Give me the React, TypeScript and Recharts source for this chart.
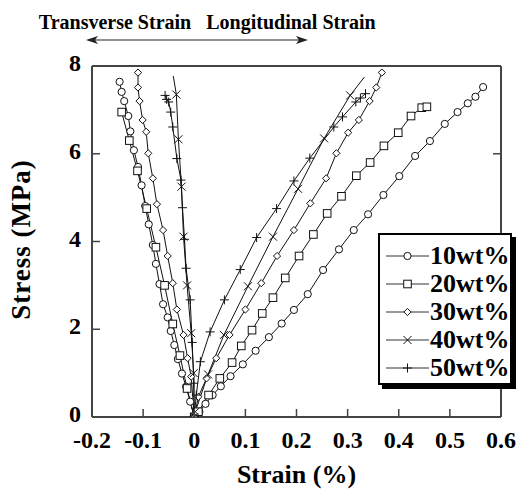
import React from 'react'
import { ComposedChart, Line, XAxis, YAxis, Legend } from 'recharts'

type Pt = { x: number; y: number }

const strainTicks = [-0.2, -0.1, 0, 0.1, 0.2, 0.3, 0.4, 0.5, 0.6]
const stressTicks = [0, 2, 4, 6, 8]
const seriesNames = ['10wt%', '20wt%', '30wt%', '40wt%', '50wt%']
const markerKinds = ['circle', 'square', 'diamond', 'cross', 'plus']

// longitudinal (positive strain) and transverse (negative strain) branches
const long10: Pt[] = [
  { x: 0, y: 0 }, { x: 0.01, y: 0.12 }, { x: 0.022, y: 0.3 }, { x: 0.036, y: 0.5 }, { x: 0.052, y: 0.7 },
  { x: 0.071, y: 0.93 }, { x: 0.095, y: 1.2 }, { x: 0.12, y: 1.51 }, { x: 0.146, y: 1.82 }, { x: 0.171, y: 2.13 },
  { x: 0.195, y: 2.44 }, { x: 0.222, y: 2.8 }, { x: 0.252, y: 3.35 }, { x: 0.283, y: 3.82 }, { x: 0.312, y: 4.26 },
  { x: 0.34, y: 4.62 }, { x: 0.37, y: 5.06 }, { x: 0.401, y: 5.49 }, { x: 0.432, y: 5.95 }, { x: 0.461, y: 6.29 },
  { x: 0.49, y: 6.68 }, { x: 0.515, y: 6.95 }, { x: 0.535, y: 7.15 }, { x: 0.55, y: 7.3 }, { x: 0.565, y: 7.52 },
]
const trans10: Pt[] = [
  { x: 0, y: 0 }, { x: -0.008, y: 0.35 }, { x: -0.016, y: 0.69 }, { x: -0.024, y: 0.99 }, { x: -0.032, y: 1.32 },
  { x: -0.039, y: 1.64 }, { x: -0.046, y: 1.96 }, { x: -0.052, y: 2.27 }, { x: -0.061, y: 2.57 }, { x: -0.068, y: 3.03 },
  { x: -0.075, y: 3.49 }, { x: -0.081, y: 3.92 }, { x: -0.089, y: 4.39 }, { x: -0.096, y: 4.81 }, { x: -0.103, y: 5.28 },
  { x: -0.11, y: 5.7 }, { x: -0.118, y: 6.08 }, { x: -0.125, y: 6.51 }, { x: -0.129, y: 6.86 }, { x: -0.137, y: 7.2 },
  { x: -0.142, y: 7.41 }, { x: -0.146, y: 7.64 },
]
const long20: Pt[] = [
  { x: 0, y: 0 }, { x: 0.008, y: 0.12 }, { x: 0.028, y: 0.5 }, { x: 0.05, y: 0.88 }, { x: 0.074, y: 1.24 },
  { x: 0.092, y: 1.62 }, { x: 0.113, y: 1.98 }, { x: 0.133, y: 2.36 }, { x: 0.154, y: 2.72 }, { x: 0.178, y: 3.17 },
  { x: 0.205, y: 3.67 }, { x: 0.233, y: 4.16 }, { x: 0.26, y: 4.64 }, { x: 0.288, y: 5.03 }, { x: 0.317, y: 5.5 },
  { x: 0.344, y: 5.8 }, { x: 0.371, y: 6.18 }, { x: 0.399, y: 6.48 }, { x: 0.424, y: 6.86 }, { x: 0.445, y: 7.05 },
  { x: 0.455, y: 7.07 },
]
const trans20: Pt[] = [
  { x: 0, y: 0 }, { x: -0.014, y: 0.65 }, { x: -0.028, y: 1.4 }, { x: -0.042, y: 2.12 }, { x: -0.058, y: 3.0 },
  { x: -0.075, y: 3.87 }, { x: -0.093, y: 4.75 }, { x: -0.111, y: 5.61 }, { x: -0.127, y: 6.3 }, { x: -0.142, y: 6.95 },
]
const long30: Pt[] = [
  { x: 0, y: 0 }, { x: 0.008, y: 0.46 }, { x: 0.024, y: 0.88 }, { x: 0.043, y: 1.34 }, { x: 0.069, y: 1.87 },
  { x: 0.1, y: 2.45 }, { x: 0.131, y: 3.05 }, { x: 0.162, y: 3.67 }, { x: 0.195, y: 4.26 }, { x: 0.227, y: 4.87 },
  { x: 0.258, y: 5.44 }, { x: 0.278, y: 6.01 }, { x: 0.301, y: 6.48 }, { x: 0.322, y: 6.77 }, { x: 0.343, y: 7.2 },
  { x: 0.356, y: 7.51 }, { x: 0.367, y: 7.85 },
]
const trans30: Pt[] = [
  { x: 0, y: 0 }, { x: -0.006, y: 0.92 }, { x: -0.013, y: 1.34 }, { x: -0.021, y: 1.87 }, { x: -0.034, y: 2.45 },
  { x: -0.042, y: 3.05 }, { x: -0.052, y: 3.67 }, { x: -0.061, y: 4.26 }, { x: -0.073, y: 4.85 }, { x: -0.081, y: 5.44 },
  { x: -0.09, y: 6.01 }, { x: -0.094, y: 6.5 }, { x: -0.101, y: 6.77 }, { x: -0.107, y: 7.2 }, { x: -0.11, y: 7.51 },
  { x: -0.11, y: 7.85 },
]
const long40: Pt[] = [
  { x: 0, y: 0 }, { x: 0.002, y: 0.12 }, { x: 0.027, y: 0.97 }, { x: 0.058, y: 1.87 }, { x: 0.105, y: 2.98 },
  { x: 0.154, y: 4.11 }, { x: 0.203, y: 5.2 }, { x: 0.254, y: 6.35 }, { x: 0.305, y: 7.33 }, { x: 0.333, y: 7.75 },
]
const trans40: Pt[] = [
  { x: 0, y: 0 }, { x: -0.001, y: 1.0 }, { x: -0.006, y: 1.91 }, { x: -0.014, y: 3.0 }, { x: -0.021, y: 4.11 },
  { x: -0.025, y: 5.25 }, { x: -0.031, y: 6.33 }, { x: -0.035, y: 7.35 }, { x: -0.041, y: 7.77 },
]
const long50: Pt[] = [
  { x: 0, y: 0 }, { x: 0.004, y: 0.5 }, { x: 0.012, y: 1.26 }, { x: 0.031, y: 1.94 }, { x: 0.059, y: 2.67 },
  { x: 0.09, y: 3.36 }, { x: 0.122, y: 4.09 }, { x: 0.161, y: 4.75 }, { x: 0.195, y: 5.38 }, { x: 0.226, y: 5.9 },
  { x: 0.273, y: 6.61 }, { x: 0.29, y: 6.84 }, { x: 0.316, y: 7.18 }, { x: 0.325, y: 7.27 }, { x: 0.335, y: 7.37 },
]
const trans50: Pt[] = [
  { x: 0, y: 0 }, { x: -0.001, y: 0.77 }, { x: -0.004, y: 1.7 }, { x: -0.008, y: 2.67 }, { x: -0.016, y: 3.39 },
  { x: -0.019, y: 4.05 }, { x: -0.023, y: 4.77 }, { x: -0.026, y: 5.4 }, { x: -0.034, y: 5.89 }, { x: -0.042, y: 6.61 },
  { x: -0.046, y: 6.95 }, { x: -0.05, y: 7.18 }, { x: -0.054, y: 7.24 }, { x: -0.057, y: 7.33 },
]

const longBranches = [long10, long20, long30, long40, long50]
const transBranches = [trans10, trans20, trans30, trans40, trans50]
// 40wt% curves run past their last marker to the top without symbols
const unmarkedTail = [0, 0, 0, 1, 0]

const FONT = "'Liberation Serif', 'DejaVu Serif', serif"
const AXIS = '#444'

const Marker = ({ cx, cy, kind }: { cx: number; cy: number; kind: string }) => {
  if (cx == null || cy == null) return null
  const s = { stroke: '#111', strokeWidth: 1, fill: '#fff' }
  if (kind === 'circle') return <circle cx={cx} cy={cy} r={3.6} {...s} />
  if (kind === 'square') return <rect x={cx - 3.8} y={cy - 3.8} width={7.6} height={7.6} {...s} />
  if (kind === 'diamond')
    return <polygon points={`${cx},${cy - 3.6} ${cx + 3.6},${cy} ${cx},${cy + 3.6} ${cx - 3.6},${cy}`} {...s} />
  if (kind === 'cross')
    return (
      <path d={`M${cx - 4},${cy - 4}L${cx + 4},${cy + 4}M${cx - 4},${cy + 4}L${cx + 4},${cy - 4}`} stroke="#111" strokeWidth={1} />
    )
  return <path d={`M${cx - 4.5},${cy}L${cx + 4.5},${cy}M${cx},${cy - 4.5}L${cx},${cy + 4.5}`} stroke="#111" strokeWidth={1} />
}

const fmt = (v: number) => String(v)

const BottomTick = (props: any) => {
  const { x, y, payload } = props
  return (
    <g>
      <line x1={x} y1={y} x2={x} y2={y - 8} stroke={AXIS} strokeWidth={1.5} />
      <text x={x} y={y + 31} textAnchor="middle" fontSize={24} fontWeight="bold" fontFamily={FONT} fill="#000">
        {fmt(payload.value)}
      </text>
    </g>
  )
}

const TopTick = (props: any) => {
  const { x, y, payload } = props
  return (
    <g>
      <line x1={x} y1={y} x2={x} y2={y + 8} stroke={AXIS} strokeWidth={1.5} />
      {payload.value === 0 && <line x1={x} y1={y} x2={x} y2={y - 26} stroke="#222" strokeWidth={1.2} />}
    </g>
  )
}

const LeftTick = (props: any) => {
  const { x, y, payload } = props
  return (
    <g>
      <line x1={x} y1={y} x2={x + 8} y2={y} stroke={AXIS} strokeWidth={1.5} />
      <text x={x - 11} y={y + 5} textAnchor="end" fontSize={24} fontWeight="bold" fontFamily={FONT} fill="#000">
        {fmt(payload.value)}
      </text>
    </g>
  )
}

const RightTick = (props: any) => {
  const { x, y } = props
  return <line x1={x} y1={y} x2={x - 8} y2={y} stroke={AXIS} strokeWidth={1.5} />
}

const renderLegend = () => (
  <div
    style={{
      width: 134,
      height: 152,
      border: '2px solid #000',
      boxShadow: '4px 4px 0 #000',
      background: '#fff',
      padding: '7px 0 0 6px',
      boxSizing: 'border-box',
    }}
  >
    {seriesNames.map((name, i) => (
      <div key={name} style={{ display: 'flex', alignItems: 'center', height: 28 }}>
        <svg width={43} height={16} style={{ display: 'block' }}>
          <line x1={0} y1={8} x2={43} y2={8} stroke="#333" strokeWidth={1} />
          <Marker cx={21.5} cy={8} kind={markerKinds[i]} />
        </svg>
        <span
          style={{ fontFamily: FONT, fontWeight: 'bold', fontSize: 26, lineHeight: '28px', marginLeft: 1, color: '#000' }}
        >
          {name}
        </span>
      </div>
    ))}
  </div>
)

const makeDot = (prefix: string, i: number, count: number) => (p: any) => {
  if (p.index >= count) return <g key={`${prefix}${i}-${p.index}`} />
  return <Marker key={`${prefix}${i}-${p.index}`} cx={p.cx} cy={p.cy} kind={markerKinds[i]} />
}

export default function App() {
  return (
    <div style={{ position: 'absolute', left: 0, top: 0, width: 525, height: 489, background: '#fff' }}>
      <ComposedChart width={525} height={489} margin={{ top: 65, right: 23, left: 0, bottom: 0 }}>
        <XAxis
          dataKey="x"
          type="number"
          domain={[-0.2, 0.6]}
          ticks={strainTicks}
          allowDataOverflow
          height={72}
          tickSize={0}
          tickMargin={0}
          tick={<BottomTick />}
          axisLine={{ stroke: AXIS, strokeWidth: 2 }}
          label={{
            content: (p: any) => (
              <text
                x={p.viewBox.x + p.viewBox.width / 2}
                y={p.viewBox.y + 66}
                textAnchor="middle"
                fontSize={26}
                fontWeight="bold"
                fontFamily={FONT}
                fill="#000"
              >
                Strain (%)
              </text>
            ),
          }}
        />
        <XAxis
          xAxisId="top"
          orientation="top"
          type="number"
          domain={[-0.2, 0.6]}
          ticks={strainTicks}
          allowDataOverflow
          height={1}
          tickSize={0}
          tickMargin={0}
          tick={<TopTick />}
          axisLine={{ stroke: AXIS, strokeWidth: 2 }}
        />
        <YAxis
          dataKey="y"
          type="number"
          domain={[0, 8]}
          ticks={stressTicks}
          allowDataOverflow
          width={92}
          tickSize={0}
          tickMargin={0}
          tick={<LeftTick />}
          axisLine={{ stroke: AXIS, strokeWidth: 2 }}
          label={{
            content: (p: any) => {
              const cx = p.viewBox.x + 30
              const cy = p.viewBox.y + p.viewBox.height / 2 - 2
              return (
                <text
                  x={cx}
                  y={cy}
                  transform={`rotate(-90 ${cx} ${cy})`}
                  textAnchor="middle"
                  fontSize={27}
                  letterSpacing={1}
                  fontWeight="bold"
                  fontFamily={FONT}
                  fill="#000"
                >
                  Stress (MPa)
                </text>
              )
            },
          }}
        />
        <YAxis
          yAxisId="right"
          orientation="right"
          type="number"
          domain={[0, 8]}
          ticks={stressTicks}
          allowDataOverflow
          width={1}
          tickSize={0}
          tickMargin={0}
          tick={<RightTick />}
          axisLine={{ stroke: AXIS, strokeWidth: 2 }}
        />
        {seriesNames.map((name, i) => (
          <Line
            key={`t-${name}`}
            data={transBranches[i]}
            dataKey="y"
            type="linear"
            stroke="#111"
            strokeWidth={1}
            legendType="none"
            activeDot={false}
            isAnimationActive={false}
            dot={makeDot('t', i, transBranches[i].length - unmarkedTail[i])}
          />
        ))}
        {seriesNames.map((name, i) => (
          <Line
            key={`l-${name}`}
            name={name}
            data={longBranches[i]}
            dataKey="y"
            type="linear"
            stroke="#111"
            strokeWidth={1}
            activeDot={false}
            isAnimationActive={false}
            dot={makeDot('l', i, longBranches[i].length - unmarkedTail[i])}
          />
        ))}
        <Legend
          layout="vertical"
          align="center"
          verticalAlign="middle"
          content={renderLegend}
          wrapperStyle={{ position: 'absolute', left: 378, top: 233, width: 138, height: 156 }}
        />
      </ComposedChart>
      <svg
        width={525}
        height={60}
        style={{ position: 'absolute', left: 0, top: 0, pointerEvents: 'none' }}
      >
        <text x={115} y={29} textAnchor="middle" fontSize={20} fontWeight="bold" fontFamily={FONT} fill="#000">
          Transverse Strain
        </text>
        <text x={291} y={29} textAnchor="middle" fontSize={20} fontWeight="bold" fontFamily={FONT} fill="#000">
          Longitudinal Strain
        </text>
        <line x1={92} y1={40} x2={302} y2={40} stroke="#222" strokeWidth={1.2} />
        <polygon points="86,40 98,36 95,40 98,44" fill="#222" />
        <polygon points="308,40 296,36 299,40 296,44" fill="#222" />
      </svg>
    </div>
  )
}
